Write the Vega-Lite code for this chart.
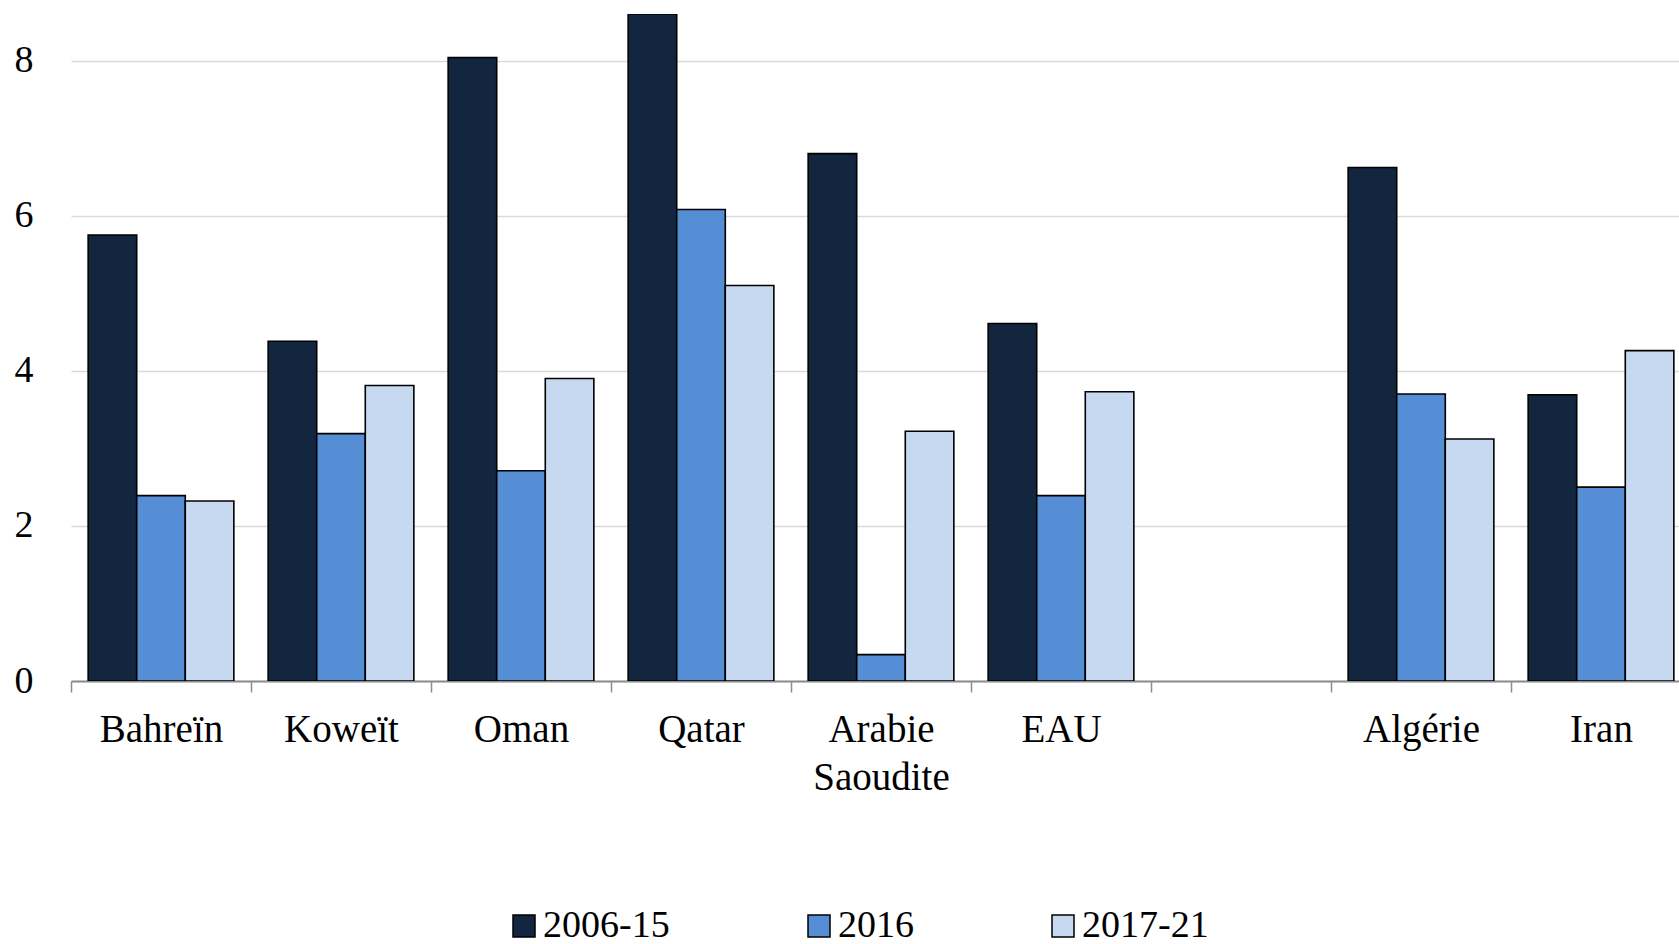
{
  "$schema": "https://vega.github.io/schema/vega-lite/v6.json",
  "autosize": {"type": "none"},
  "padding": {"left": 71, "top": 14, "right": 0, "bottom": 263},
  "width": 1608,
  "height": 667,
  "background": "white",
  "config": {
    "view": {"stroke": null},
    "font": "Liberation Serif",
    "axis": {"labelFont": "Liberation Serif"},
    "legend": {"labelFont": "Liberation Serif"}
  },
  "data": {
    "values": [
      {"pays": "Bahreïn", "periode": "2006-15", "valeur": 5.75},
      {"pays": "Bahreïn", "periode": "2016", "valeur": 2.39},
      {"pays": "Bahreïn", "periode": "2017-21", "valeur": 2.32},
      {"pays": "Koweït", "periode": "2006-15", "valeur": 4.38},
      {"pays": "Koweït", "periode": "2016", "valeur": 3.19},
      {"pays": "Koweït", "periode": "2017-21", "valeur": 3.81},
      {"pays": "Oman", "periode": "2006-15", "valeur": 8.04},
      {"pays": "Oman", "periode": "2016", "valeur": 2.71},
      {"pays": "Oman", "periode": "2017-21", "valeur": 3.9},
      {"pays": "Qatar", "periode": "2006-15", "valeur": 8.6},
      {"pays": "Qatar", "periode": "2016", "valeur": 6.08},
      {"pays": "Qatar", "periode": "2017-21", "valeur": 5.1},
      {"pays": "Arabie Saoudite", "periode": "2006-15", "valeur": 6.8},
      {"pays": "Arabie Saoudite", "periode": "2016", "valeur": 0.34},
      {"pays": "Arabie Saoudite", "periode": "2017-21", "valeur": 3.22},
      {"pays": "EAU", "periode": "2006-15", "valeur": 4.61},
      {"pays": "EAU", "periode": "2016", "valeur": 2.39},
      {"pays": "EAU", "periode": "2017-21", "valeur": 3.73},
      {"pays": "Algérie", "periode": "2006-15", "valeur": 6.62},
      {"pays": "Algérie", "periode": "2016", "valeur": 3.7},
      {"pays": "Algérie", "periode": "2017-21", "valeur": 3.12},
      {"pays": "Iran", "periode": "2006-15", "valeur": 3.69},
      {"pays": "Iran", "periode": "2016", "valeur": 2.5},
      {"pays": "Iran", "periode": "2017-21", "valeur": 4.26}
    ]
  },
  "mark": {"type": "bar", "stroke": "black", "strokeWidth": 1.6, "clip": true},
  "encoding": {
    "x": {
      "field": "pays",
      "type": "nominal",
      "sort": null,
      "scale": {
        "domain": ["Bahreïn", "Koweït", "Oman", "Qatar", "Arabie Saoudite", "EAU", " ", "Algérie", "Iran"],
        "range": [0, 1620],
        "paddingInner": 0,
        "paddingOuter": 0
      },
      "axis": {
        "title": null,
        "labelAngle": 0,
        "labelFont": "Liberation Serif",
        "labelFontSize": 39,
        "labelColor": "black",
        "labelPadding": 18,
        "labelLineHeight": 48,
        "labelExpr": "datum.value == 'Arabie Saoudite' ? ['Arabie', 'Saoudite'] : datum.value",
        "tickBand": "extent",
        "ticks": true,
        "tickSize": 11,
        "tickColor": "#8c8c8c",
        "tickWidth": 1.5,
        "domainColor": "#8c8c8c",
        "domainWidth": 2,
        "grid": false
      }
    },
    "xOffset": {
      "field": "periode",
      "type": "nominal",
      "scale": {"domain": ["2006-15", "2016", "2017-21"], "paddingInner": 0, "paddingOuter": 0.353}
    },
    "y": {
      "field": "valeur",
      "type": "quantitative",
      "scale": {"domain": [0, 8.6], "nice": false},
      "axis": {
        "title": null,
        "values": [0, 2, 4, 6, 8],
        "domain": false,
        "ticks": false,
        "labelFont": "Liberation Serif",
        "labelFontSize": 38,
        "labelColor": "black",
        "labelPadding": 38,
        "gridColor": "#d9d9d9",
        "gridWidth": 1.5
      }
    },
    "color": {
      "field": "periode",
      "type": "nominal",
      "scale": {"domain": ["2006-15", "2016", "2017-21"], "range": ["#13263F", "#558ED5", "#C6D9F1"]},
      "legend": {
        "title": null,
        "orient": "none",
        "legendX": 434,
        "legendY": 893,
        "direction": "horizontal",
        "symbolType": "square",
        "symbolSize": 484,
        "symbolStrokeColor": "black",
        "symbolStrokeWidth": 1.5,
        "labelFont": "Liberation Serif",
        "labelFontSize": 38,
        "labelColor": "black",
        "labelOffset": 0,
        "columnPadding": 130
      }
    }
  }
}
